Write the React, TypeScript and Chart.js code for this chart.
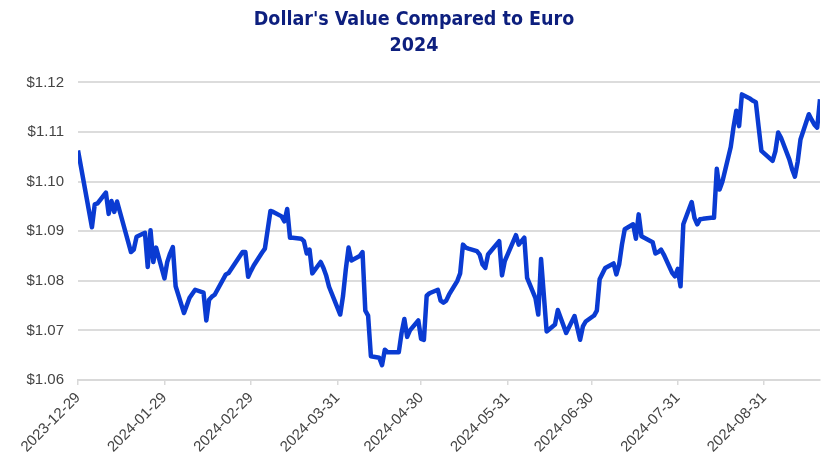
import React, { useEffect, useRef } from "react";
import { Chart, registerables } from "chart.js";

Chart.register(...registerables);

const TITLE_LINES = ["Dollar's Value Compared to Euro", "2024"];
const START_DATE = "2023-12-29";
const END_DATE = "2024-09-20";
const TICK_DATES = [
  "2023-12-29", "2024-01-29", "2024-02-29", "2024-03-31", "2024-04-30",
  "2024-05-31", "2024-06-30", "2024-07-31", "2024-08-31",
];
const Y_TICKS = [1.06, 1.07, 1.08, 1.09, 1.1, 1.11, 1.12];

const DATES = [
  "2023-12-29", "2024-01-03", "2024-01-04", "2024-01-05", "2024-01-08", "2024-01-09",
  "2024-01-10", "2024-01-11", "2024-01-12", "2024-01-17", "2024-01-18", "2024-01-19",
  "2024-01-22", "2024-01-23", "2024-01-24", "2024-01-25", "2024-01-26", "2024-01-29",
  "2024-01-30", "2024-01-31", "2024-02-01", "2024-02-02", "2024-02-05", "2024-02-07",
  "2024-02-09", "2024-02-12", "2024-02-13", "2024-02-14", "2024-02-15", "2024-02-16",
  "2024-02-20", "2024-02-21", "2024-02-26", "2024-02-27", "2024-02-28", "2024-02-29",
  "2024-03-01", "2024-03-04", "2024-03-05", "2024-03-07", "2024-03-08", "2024-03-11",
  "2024-03-12", "2024-03-13", "2024-03-14", "2024-03-15", "2024-03-18", "2024-03-19",
  "2024-03-20", "2024-03-21", "2024-03-22", "2024-03-25", "2024-03-26", "2024-03-27",
  "2024-03-28", "2024-04-01", "2024-04-02", "2024-04-03", "2024-04-04", "2024-04-05",
  "2024-04-08", "2024-04-09", "2024-04-10", "2024-04-11", "2024-04-12", "2024-04-15",
  "2024-04-16", "2024-04-17", "2024-04-18", "2024-04-19", "2024-04-22", "2024-04-23",
  "2024-04-24", "2024-04-25", "2024-04-26", "2024-04-29", "2024-04-30", "2024-05-01",
  "2024-05-02", "2024-05-03", "2024-05-06", "2024-05-07", "2024-05-08", "2024-05-09",
  "2024-05-10", "2024-05-13", "2024-05-14", "2024-05-15", "2024-05-16", "2024-05-17",
  "2024-05-20", "2024-05-21", "2024-05-22", "2024-05-23", "2024-05-24", "2024-05-28",
  "2024-05-29", "2024-05-30", "2024-05-31", "2024-06-03", "2024-06-04", "2024-06-05",
  "2024-06-06", "2024-06-07", "2024-06-10", "2024-06-11", "2024-06-12", "2024-06-14",
  "2024-06-17", "2024-06-18", "2024-06-21", "2024-06-24", "2024-06-26", "2024-06-27",
  "2024-06-28", "2024-07-01", "2024-07-02", "2024-07-03", "2024-07-05", "2024-07-08",
  "2024-07-09", "2024-07-10", "2024-07-11", "2024-07-12", "2024-07-15", "2024-07-16",
  "2024-07-17", "2024-07-18", "2024-07-19", "2024-07-22", "2024-07-23", "2024-07-24",
  "2024-07-25", "2024-07-26", "2024-07-29", "2024-07-30", "2024-07-31", "2024-08-01",
  "2024-08-02", "2024-08-05", "2024-08-06", "2024-08-07", "2024-08-08", "2024-08-09",
  "2024-08-12", "2024-08-13", "2024-08-14", "2024-08-15", "2024-08-16", "2024-08-19",
  "2024-08-20", "2024-08-21", "2024-08-22", "2024-08-23", "2024-08-26", "2024-08-27",
  "2024-08-28", "2024-08-29", "2024-08-30", "2024-09-03", "2024-09-04", "2024-09-05",
  "2024-09-06", "2024-09-09", "2024-09-10", "2024-09-11", "2024-09-12", "2024-09-13",
  "2024-09-16", "2024-09-17", "2024-09-18", "2024-09-19", "2024-09-20",
];

const VALUES = [
  1.1063, 1.0908, 1.0954, 1.0956, 1.0978, 1.0935,
  1.0961, 1.0939, 1.096, 1.0858, 1.0863, 1.0889,
  1.0897, 1.0828, 1.0902, 1.0838, 1.0867, 1.0805,
  1.0838, 1.0855, 1.0868, 1.0789, 1.0735, 1.0766,
  1.0782, 1.0776, 1.072, 1.0762, 1.0768, 1.0772,
  1.0813, 1.0816, 1.0858, 1.0858, 1.0808, 1.082,
  1.0831, 1.0857, 1.0865, 1.0941, 1.0939, 1.093,
  1.092, 1.0945, 1.0887, 1.0887, 1.0885, 1.088,
  1.0855, 1.0863, 1.0815, 1.0838, 1.0826, 1.081,
  1.0788, 1.0732, 1.0769, 1.0823, 1.0867, 1.0841,
  1.085, 1.0858, 1.074, 1.073, 1.0648, 1.0645,
  1.063, 1.0661, 1.0656, 1.0656, 1.0656, 1.0695,
  1.0723, 1.0687, 1.07, 1.072, 1.0683, 1.0681,
  1.077, 1.0775, 1.0782, 1.076, 1.0756, 1.076,
  1.0772, 1.08, 1.0815, 1.0873, 1.0867, 1.0865,
  1.086, 1.0853, 1.0833, 1.0826, 1.0853, 1.088,
  1.0811, 1.084, 1.0853, 1.0892, 1.0873, 1.088,
  1.0887, 1.0806, 1.0765, 1.0732, 1.0844, 1.0698,
  1.0712, 1.0741, 1.0695, 1.0729, 1.0681, 1.0708,
  1.0718, 1.073, 1.074, 1.0803, 1.0826, 1.0835,
  1.0813, 1.0833, 1.0873, 1.0904, 1.0914, 1.0885,
  1.0934, 1.089, 1.0887, 1.0878, 1.0855, 1.0858,
  1.0863, 1.0853, 1.0816, 1.0809, 1.0824, 1.0789,
  1.0914, 1.0959, 1.0927, 1.0914, 1.0924, 1.0925,
  1.0927, 1.0927, 1.1026, 1.0984, 1.1, 1.107,
  1.111, 1.1143, 1.1112, 1.1176, 1.1167, 1.1163,
  1.116, 1.111, 1.1062, 1.1042, 1.1061, 1.1099,
  1.1089, 1.1045, 1.1025, 1.101, 1.104, 1.1085,
  1.1136, 1.1125, 1.1115, 1.1109, 1.1166,
];

const DAY_MS = 86400000;
const toDay = (s: string) => {
  const [y, m, d] = s.split("-").map(Number);
  const [y0, m0, d0] = START_DATE.split("-").map(Number);
  return Math.round((Date.UTC(y, m - 1, d) - Date.UTC(y0, m0 - 1, d0)) / DAY_MS);
};

export default function App() {
  const canvasRef = useRef<HTMLCanvasElement | null>(null);

  useEffect(() => {
    const canvas = canvasRef.current;
    if (!canvas) return;
    const points = DATES.map((d, i) => ({ x: toDay(d), y: VALUES[i] }));
    const tickDays = TICK_DATES.map(toDay);
    const labelFor = new Map<number, string>();
    TICK_DATES.forEach((d) => labelFor.set(toDay(d), d));

    const chart = new Chart(canvas, {
      type: "line",
      data: {
        datasets: [
          {
            data: points,
            borderColor: "#0a3bd2",
            borderWidth: 4.5,
            pointRadius: 0,
            tension: 0,
            borderJoinStyle: "round",
            borderCapStyle: "butt",
          },
        ],
      },
      options: {
        animation: false,
        responsive: false,
        maintainAspectRatio: false,
        layout: { padding: { left: 8, right: 20, top: 0, bottom: 0 } },
        plugins: {
          legend: { display: false },
          tooltip: { enabled: false },
          title: {
            display: true,
            text: TITLE_LINES,
            color: "#0d1f7e",
            font: { family: "'Liberation Sans Narrow', 'DejaVu Sans Condensed', Arial, sans-serif", size: 19.5, weight: "bold", lineHeight: 1.32 },
            padding: { top: 7, bottom: 24 },
          },
        },
        scales: {
          x: {
            type: "linear",
            min: toDay(START_DATE),
            max: toDay(END_DATE),
            afterBuildTicks: (scale: any) => {
              scale.ticks = tickDays.map((v) => ({ value: v }));
            },
            afterFit: (scale: any) => {
              scale.height = 92;
            },
            ticks: {
              autoSkip: false,
              minRotation: 45,
              maxRotation: 45,
              color: "#444444",
              padding: 4,
              font: { family: "'Liberation Sans', Arial, sans-serif", size: 15 },
              callback: (v: any) => labelFor.get(Number(v)) ?? "",
            },
            grid: {
              drawOnChartArea: false,
              drawTicks: true,
              tickLength: 5,
              color: "#d9d9d9",
              lineWidth: 1.5,
            },
            border: { display: true, color: "#d9d9d9", width: 2 },
          },
          y: {
            min: 1.06,
            max: 1.12,
            afterBuildTicks: (scale: any) => {
              scale.ticks = Y_TICKS.map((v) => ({ value: v }));
            },
            afterFit: (scale: any) => {
              scale.width = 70;
            },
            ticks: {
              color: "#444444",
              padding: 14,
              font: { family: "'Liberation Sans', Arial, sans-serif", size: 15 },
              callback: (v: any) => "$" + Number(v).toFixed(2),
            },
            grid: {
              drawTicks: false,
              color: "#dcdcdc",
              lineWidth: 2,
            },
            border: { display: false },
          },
        },
      },
    } as any);

    return () => chart.destroy();
  }, []);

  return (
    <div style={{ position: "fixed", left: 0, top: 0, width: 840, height: 472, background: "#ffffff" }}>
      <canvas ref={canvasRef} width={840} height={472} style={{ width: 840, height: 472, display: "block" }} />
    </div>
  );
}
